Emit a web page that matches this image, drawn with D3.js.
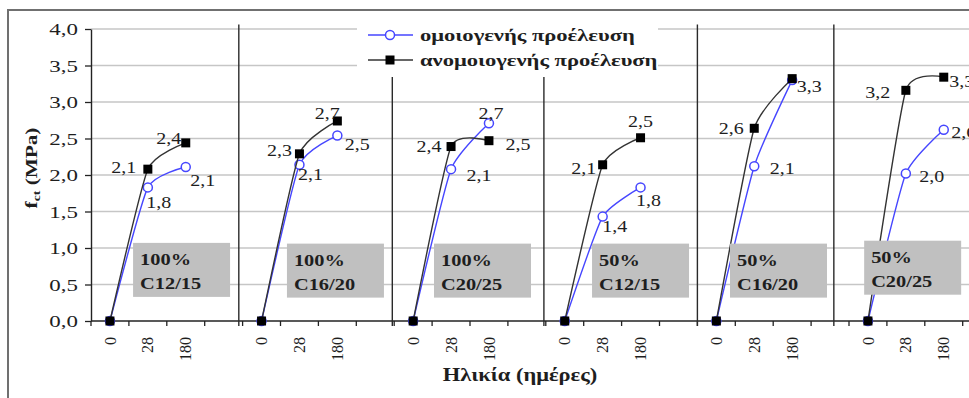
<!DOCTYPE html>
<html>
<head>
<meta charset="utf-8">
<script src="https://cdn.jsdelivr.net/npm/d3@7"></script>
<style>
  html, body { margin: 0; padding: 0; background: #fff; }
  svg { display: block; }
  text { font-family: "Liberation Serif", "Times New Roman", serif; fill: #1e1e1e; }
</style>
</head>
<body>
<script>
// Tensile strength fct (MPa) vs age for six concrete mixes
const ageTicks = ["0", "28", "180", ""];
const panelMix = ["100%", "100%", "100%", "50%", "50%", "50%"];
const panelClass = ["C12/15", "C16/20", "C20/25", "C12/15", "C16/20", "C20/25"];
const seriesNames = ["ομοιογενής προέλευση", "ανομοιογενής προέλευση"];
const yTicks = [0, 0.5, 1.0, 1.5, 2.0, 2.5, 3.0, 3.5, 4.0];

// values at 0, 28 and 180 days, one row per panel
const homogeneous = [
  [0, 1.83, 2.11],
  [0, 2.14, 2.54],
  [0, 2.08, 2.71],
  [0, 1.43, 1.83],
  [0, 2.12, 3.30],
  [0, 2.02, 2.62]
];
const heterogeneous = [
  [0, 2.08, 2.44],
  [0, 2.29, 2.74],
  [0, 2.39, 2.47],
  [0, 2.14, 2.51],
  [0, 2.64, 3.32],
  [0, 3.16, 3.34]
];

// label offsets (px) from each point; null = no label
const homogeneousLabelAt = [
  [null, [11, 15], [17, 13]],
  [null, [11, 10], [20, 9]],
  [null, [28, 6], [2, -10]],
  [null, [12, 10], [8, 13]],
  [null, [28, 2], null],
  [null, [26, 3], [20, 3]]
];
const heterogeneousLabelAt = [
  [null, [-24, -2], [-17, -4]],
  [null, [-20, -3], [-10, -8]],
  [null, [-22, 0], [29, 4]],
  [null, [-19, 4], [0, -16]],
  [null, [-23, 0], [17, 8]],
  [null, [-28, 2], [18, 4]]
];

// note boxes: left edge in category units, top in MPa
const noteAt = [[1.11, 1.07], [5.17, 1.06], [9.05, 1.06], [13.22, 1.06], [16.86, 1.06], [20.4, 1.1]];
// panel divider lines, in category units
const dividers = [3.9, 7.95, 11.95, 16, 19.6];

const W = 969, H = 398;
const nCat = panelMix.length * ageTicks.length;
const step = 37.9;
const x0 = 91;
const SX = 1.25;

const loc = d3.formatLocale({decimal: ",", thousands: ".", grouping: [3], currency: ["", ""]});
const fmt = loc.format(".1f");

const svg = d3.select("body").append("svg").attr("width", W).attr("height", H);

const x = d3.scaleBand().domain(d3.range(nCat)).range([x0, x0 + nCat * step]);
const xEdge = d3.scaleLinear().domain([0, nCat]).range([x0, x0 + nCat * step]);
const y = d3.scaleLinear().domain([0, 4]).range([321, 29]);
const bw = x.bandwidth();
const cx = i => x(i) + bw / 2;

function stretch(sel, sx) {
  sel.each(function () {
    const t = d3.select(this);
    const tx = +t.attr("x") || 0, ty = +t.attr("y") || 0;
    t.attr("transform", `translate(${tx},${ty}) scale(${sx},1) translate(${-tx},${-ty})`);
  });
}

// outer frame
svg.append("path")
  .attr("d", `M8,${H} V10 H${W}`)
  .attr("fill", "none").attr("stroke", "#707070").attr("stroke-width", 2);

// horizontal grid
svg.append("g").selectAll("line").data(yTicks.filter(v => v > 0)).join("line")
  .attr("x1", x0).attr("x2", W)
  .attr("y1", d => y(d)).attr("y2", d => y(d))
  .attr("stroke", "#c6c6c6").attr("stroke-width", 1.7);

// y axis
const gy = svg.append("g").attr("transform", `translate(${x0},0)`)
  .call(d3.axisLeft(y).tickValues(yTicks).tickFormat(fmt).tickSize(6).tickSizeOuter(0).tickPadding(7));
gy.select(".domain").attr("stroke", "#222").attr("stroke-width", 1.4);
gy.selectAll(".tick line").attr("stroke", "#222").attr("stroke-width", 1.3);
gy.selectAll(".tick text").attr("font-size", 17).attr("font-family", "Liberation Serif")
  .attr("fill", "#1e1e1e").attr("dy", "0.35em").call(stretch, 1.35);

// x axis baseline and boundary ticks
svg.append("line").attr("x1", x0).attr("x2", W).attr("y1", y(0)).attr("y2", y(0))
  .attr("stroke", "#222").attr("stroke-width", 1.4);
svg.append("g").selectAll("line").data(d3.range(nCat + 1)).join("line")
  .attr("x1", d => xEdge(d)).attr("x2", d => xEdge(d))
  .attr("y1", y(0)).attr("y2", y(0) + 5)
  .attr("stroke", "#222").attr("stroke-width", 1.3);

// age labels (rotated)
const gx = svg.append("g").attr("transform", `translate(0,${y(0)})`)
  .call(d3.axisBottom(x).tickSize(0).tickFormat(i => ageTicks[i % ageTicks.length]));
gx.select(".domain").remove();
gx.selectAll(".tick text")
  .attr("font-size", 16).attr("font-family", "Liberation Serif").attr("fill", "#1e1e1e")
  .attr("transform", "rotate(-90)").attr("text-anchor", "end")
  .attr("x", -16).attr("y", 0).attr("dy", "0.35em");

// panel dividers
svg.append("g").selectAll("line").data(dividers).join("line")
  .attr("x1", d => xEdge(d)).attr("x2", d => xEdge(d))
  .attr("y1", y(4.06)).attr("y2", y(0) + 5)
  .attr("stroke", "#2a2a2a").attr("stroke-width", 1.4);

// legend
const lg = svg.append("g");
lg.append("rect").attr("x", 357).attr("y", 17).attr("width", 301).attr("height", 60).attr("fill", "#fff");
const legendRows = [
  {name: seriesNames[0], color: "#4646ff", marker: "circle", y: 35},
  {name: seriesNames[1], color: "#333", marker: "square", y: 60}
];
legendRows.forEach(r => {
  lg.append("line").attr("x1", 368).attr("x2", 413).attr("y1", r.y).attr("y2", r.y)
    .attr("stroke", r.color).attr("stroke-width", 1.5);
  if (r.marker === "circle") {
    lg.append("circle").attr("cx", 390).attr("cy", r.y).attr("r", 4.5)
      .attr("fill", "#fff").attr("stroke", r.color).attr("stroke-width", 1.5);
  } else {
    lg.append("rect").attr("x", 385.5).attr("y", r.y - 4.5).attr("width", 9).attr("height", 9).attr("fill", "#000");
  }
  lg.append("text").attr("x", 420).attr("y", r.y).attr("dy", "0.32em")
    .attr("font-size", 17.5).attr("font-weight", "bold").text(r.name).call(stretch, 1.29);
});

// series
const line = d3.line().curve(d3.curveCardinal.tension(0.5));
const series = [
  {values: homogeneous, labels: homogeneousLabelAt, color: "#4646ff", marker: "circle"},
  {values: heterogeneous, labels: heterogeneousLabelAt, color: "#333", marker: "square"}
];
const gs = svg.append("g");
series.forEach(s => {
  s.values.forEach((row, p) => {
    const pts = row.map((v, i) => [cx(p * ageTicks.length + i), y(v)]);
    gs.append("path").attr("d", line(pts)).attr("fill", "none")
      .attr("stroke", s.color).attr("stroke-width", 1.4);
    pts.forEach(([px, py]) => {
      if (s.marker === "circle") {
        gs.append("circle").attr("cx", px).attr("cy", py).attr("r", 4.5)
          .attr("fill", "#fff").attr("stroke", s.color).attr("stroke-width", 1.5);
      } else {
        gs.append("rect").attr("x", px - 4.5).attr("y", py - 4.5).attr("width", 9).attr("height", 9).attr("fill", "#000");
      }
    });
  });
});

// note boxes
const gn = svg.append("g");
noteAt.forEach(([cu, v], p) => {
  const bx = xEdge(cu), by = y(v);
  gn.append("rect").attr("x", bx).attr("y", by).attr("width", 97).attr("height", 54).attr("fill", "#c0c0c0");
  gn.append("text").attr("x", bx + 7).attr("y", by + 22).attr("font-size", 17).attr("font-weight", "bold")
    .text(panelMix[p]).call(stretch, 1.2);
  gn.append("text").attr("x", bx + 7).attr("y", by + 46).attr("font-size", 17).attr("font-weight", "bold")
    .text(panelClass[p]).call(stretch, 1.2);
});

// data labels
const gl = svg.append("g");
series.forEach(s => {
  s.values.forEach((row, p) => {
    row.forEach((v, i) => {
      const off = s.labels[p][i];
      if (!off) return;
      gl.append("text")
        .attr("x", cx(p * ageTicks.length + i) + off[0])
        .attr("y", y(v) + off[1])
        .attr("dy", "0.35em").attr("text-anchor", "middle")
        .attr("font-size", 16).text(fmt(v)).call(stretch, SX);
    });
  });
});

// axis titles
const yt = svg.append("text").attr("transform", "translate(37,168) rotate(-90) scale(1.25,1)")
  .attr("text-anchor", "middle").attr("font-size", 17).attr("font-weight", "bold");
yt.append("tspan").text("f");
yt.append("tspan").attr("font-size", 11).attr("dy", 3).text("ct");
yt.append("tspan").attr("dy", -3).text(" (MPa)");

svg.append("text").attr("x", 520).attr("y", 381).attr("text-anchor", "middle")
  .attr("font-size", 18).attr("font-weight", "bold").text("Ηλικία (ημέρες)").call(stretch, SX);
</script>
</body>
</html>
